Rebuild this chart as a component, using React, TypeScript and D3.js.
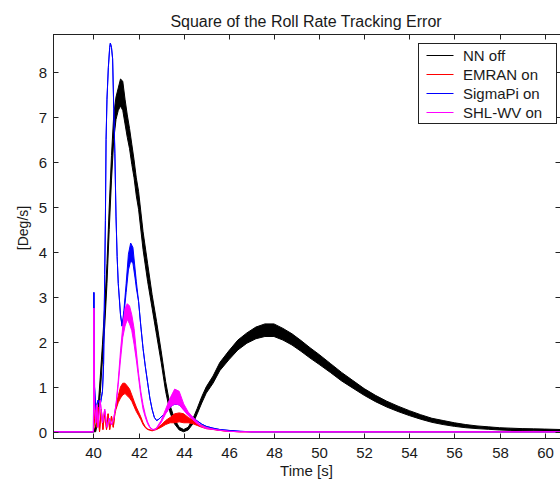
import React from "react";
import * as d3 from "d3";

// ---------- data ----------
const xTicks = [40, 42, 44, 46, 48, 50, 52, 54, 56, 58, 60];
const yTicks = [0, 1, 2, 3, 4, 5, 6, 7, 8];
const seriesNames = ["NN off", "EMRAN on", "SigmaPi on", "SHL-WV on"];
const seriesColors = ["#000000", "#ff0000", "#0000ff", "#ff00ff"];

// NN off (black) : time, lower / upper edge of the noisy trace
const nnOffT = [38.2, 40.0, 40.1, 40.2, 40.3, 40.4, 40.5, 40.6, 40.7, 40.8, 40.9, 41.0, 41.1, 41.2, 41.3, 41.4, 41.5, 41.6, 41.7, 41.8, 41.9, 42.0, 42.2, 42.4, 42.6, 42.8, 43.0, 43.2, 43.4, 43.6, 43.8, 44.0, 44.2, 44.4, 44.6, 44.8, 45.0, 45.3, 45.6, 46.0, 46.4, 46.8, 47.2, 47.6, 48.0, 48.4, 48.8, 49.2, 49.6, 50.0, 50.5, 51.0, 51.5, 52.0, 52.5, 53.0, 53.5, 54.0, 54.5, 55.0, 55.5, 56.0, 56.5, 57.0, 57.5, 58.0, 58.5, 59.0, 59.5, 60.0, 60.7];
const nnOffLo = [0, 0, 0, 0.25, 0.85, 1.6, 2.35, 3.3, 4.5, 5.6, 6.5, 6.95, 7.15, 7.25, 7.15, 6.85, 6.55, 6.3, 5.95, 5.65, 5.25, 4.95, 4.05, 3.35, 2.75, 2.15, 1.55, 0.9, 0.42, 0.17, 0.04, 0.0, 0.04, 0.17, 0.4, 0.64, 0.86, 1.08, 1.36, 1.6, 1.82, 1.97, 2.07, 2.12, 2.12, 2.04, 1.93, 1.79, 1.64, 1.5, 1.32, 1.13, 0.97, 0.81, 0.67, 0.55, 0.45, 0.36, 0.28, 0.21, 0.16, 0.12, 0.09, 0.07, 0.055, 0.04, 0.03, 0.025, 0.02, 0.015, 0.01];
const nnOffHi = [0, 0, 0.12, 0.5, 1.2, 1.95, 2.8, 3.75, 5.0, 6.15, 7.05, 7.45, 7.65, 7.85, 7.8, 7.4, 7.05, 6.75, 6.4, 6.05, 5.65, 5.35, 4.45, 3.75, 3.05, 2.45, 1.8, 1.12, 0.58, 0.28, 0.1, 0.05, 0.1, 0.28, 0.52, 0.78, 1.0, 1.24, 1.54, 1.8, 2.04, 2.2, 2.33, 2.4, 2.4, 2.3, 2.18, 2.03, 1.87, 1.72, 1.52, 1.32, 1.14, 0.96, 0.81, 0.68, 0.57, 0.47, 0.38, 0.3, 0.25, 0.2, 0.16, 0.13, 0.11, 0.09, 0.08, 0.07, 0.065, 0.06, 0.05];

// EMRAN on (red)
const emranT = [38.2, 40.0, 40.05, 40.1, 40.15, 40.2, 40.27, 40.35, 40.42, 40.5, 40.58, 40.65, 40.72, 40.8, 40.88, 40.95, 41.0, 41.1, 41.2, 41.3, 41.4, 41.5, 41.6, 41.7, 41.8, 41.9, 42.0, 42.1, 42.2, 42.3, 42.4, 42.6, 42.8, 43.0, 43.2, 43.4, 43.6, 43.8, 44.0, 44.2, 44.4, 44.6, 44.8, 45.0, 45.3, 45.6, 46.0, 46.5, 60.7];
const emranLo = [0, 0, 0.3, 0.6, 0.1, 0.55, 0.0, 0.5, 0.05, 0.45, 0.05, 0.4, 0.05, 0.35, 0.1, 0.4, 0.5, 0.65, 0.75, 0.82, 0.85, 0.8, 0.75, 0.68, 0.56, 0.45, 0.36, 0.27, 0.16, 0.09, 0.05, 0.02, 0.05, 0.1, 0.16, 0.2, 0.2, 0.22, 0.2, 0.2, 0.18, 0.14, 0.1, 0.07, 0.05, 0.03, 0.01, 0, 0];
const emranHi = [0, 0, 0.3, 0.6, 0.1, 0.55, 0.0, 0.5, 0.05, 0.45, 0.05, 0.4, 0.05, 0.35, 0.1, 0.4, 0.6, 0.8, 1.0, 1.08, 1.08, 1.02, 0.95, 0.82, 0.68, 0.55, 0.44, 0.33, 0.2, 0.11, 0.06, 0.03, 0.08, 0.15, 0.25, 0.32, 0.4, 0.42, 0.4, 0.32, 0.26, 0.18, 0.14, 0.09, 0.06, 0.03, 0.01, 0, 0];

// SigmaPi on (blue)
const sigmaT = [38.2, 40.0, 40.02, 40.05, 40.1, 40.2, 40.3, 40.4, 40.45, 40.5, 40.53, 40.56, 40.6, 40.66, 40.72, 40.75, 40.8, 40.85, 40.9, 40.95, 41.0, 41.05, 41.1, 41.2, 41.27, 41.35, 41.45, 41.55, 41.65, 41.75, 41.85, 41.9, 42.0, 42.1, 42.2, 42.3, 42.4, 42.5, 42.6, 42.7, 42.8, 42.9, 43.0, 43.2, 43.4, 43.6, 43.8, 44.0, 44.2, 44.4, 44.6, 44.8, 45.0, 45.3, 45.6, 46.0, 46.5, 47.0, 60.7];
const sigmaLo = [0, 0, 3.1, 1.0, 0.5, 0.7, 0.6, 0.9, 1.5, 3.5, 4.7, 6.5, 7.4, 8.1, 8.55, 8.65, 8.55, 8.3, 7.2, 6.2, 4.8, 3.9, 3.3, 2.6, 2.35, 2.6, 3.1, 3.6, 3.8, 3.75, 3.4, 3.2, 2.9, 2.35, 1.85, 1.45, 1.1, 0.75, 0.5, 0.32, 0.25, 0.28, 0.33, 0.42, 0.55, 0.62, 0.6, 0.5, 0.4, 0.32, 0.24, 0.17, 0.12, 0.08, 0.05, 0.03, 0.01, 0, 0];
const sigmaHi = [0, 0, 3.1, 1.0, 0.5, 0.7, 0.6, 0.9, 1.5, 3.5, 4.7, 6.5, 7.4, 8.1, 8.55, 8.65, 8.55, 8.3, 7.2, 6.2, 4.8, 3.9, 3.3, 2.6, 2.35, 2.7, 3.3, 3.95, 4.2, 4.1, 3.6, 3.35, 2.9, 2.35, 1.85, 1.45, 1.1, 0.75, 0.5, 0.32, 0.25, 0.28, 0.33, 0.42, 0.55, 0.62, 0.6, 0.5, 0.4, 0.32, 0.24, 0.17, 0.12, 0.08, 0.05, 0.03, 0.01, 0, 0];

// SHL-WV on (magenta)
const shlT = [38.2, 40.0, 40.02, 40.05, 40.1, 40.15, 40.2, 40.3, 40.4, 40.5, 40.6, 40.7, 40.8, 40.9, 41.0, 41.1, 41.2, 41.3, 41.4, 41.5, 41.6, 41.7, 41.8, 41.9, 42.0, 42.1, 42.2, 42.3, 42.4, 42.5, 42.6, 42.7, 42.8, 43.0, 43.2, 43.4, 43.6, 43.8, 44.0, 44.2, 44.4, 44.6, 44.8, 45.0, 45.5, 46.0, 46.5, 60.7];
const shlLo = [0, 0, 2.75, 0.6, 0.2, 0.6, 0.1, 0.7, 0.2, 0.5, 0.1, 0.3, 0.15, 0.3, 0.6, 1.05, 1.6, 2.1, 2.35, 2.5, 2.4, 2.25, 1.95, 1.6, 1.2, 0.8, 0.5, 0.32, 0.18, 0.09, 0.05, 0.04, 0.07, 0.2, 0.4, 0.55, 0.62, 0.6, 0.48, 0.36, 0.27, 0.18, 0.11, 0.07, 0.04, 0.01, 0, 0];
const shlHi = [0, 0, 2.75, 0.6, 0.2, 0.6, 0.1, 0.7, 0.2, 0.5, 0.1, 0.3, 0.15, 0.3, 0.6, 1.15, 1.8, 2.35, 2.75, 2.85, 2.8, 2.6, 2.3, 1.8, 1.3, 0.9, 0.6, 0.38, 0.22, 0.11, 0.06, 0.05, 0.09, 0.25, 0.5, 0.75, 0.95, 0.9, 0.62, 0.44, 0.33, 0.22, 0.13, 0.09, 0.04, 0.01, 0, 0];

const seriesT = [nnOffT, emranT, sigmaT, shlT];
const seriesLo = [nnOffLo, emranLo, sigmaLo, shlLo];
const seriesHi = [nnOffHi, emranHi, sigmaHi, shlHi];

// ---------- layout ----------
const W = 560;
const H = 483;
const L = 53.5, R = 560.5, T = 34.5, B = 438.5;
const FONT = "'Liberation Sans', Arial, Helvetica, sans-serif";
const TXT = "#1a1a1a";

export default function App() {
  const x = d3.scaleLinear().domain([38.23, 60.7]).range([L, R]);
  const y = d3.scaleLinear().domain([-0.15, 8.84]).range([B, T]);

  const paths = seriesT.map((ts, s) => {
    const idx = ts.map((_, i) => i);
    const gen = d3
      .area<number>()
      .x((i) => x(ts[i]))
      .y0((i) => y(seriesLo[s][i]))
      .y1((i) => y(seriesHi[s][i]));
    return gen(idx) || "";
  });

  const tickLen = 5;
  const legX = 418.5, legY = 43.5, legW = 138, legH = 80;

  return (
    <svg
      width={W}
      height={H}
      style={{ position: "absolute", left: 0, top: 0, background: "#fff" }}
      fontFamily={FONT}
    >
      <rect x={0} y={0} width={W} height={H} fill="#fff" />
      {/* title */}
      <text x={306} y={27} textAnchor="middle" fontSize={16} fill={TXT}>
        Square of the Roll Rate Tracking Error
      </text>

      <defs>
        <clipPath id="plotClip">
          <rect x={L} y={T} width={R - L} height={B - T} />
        </clipPath>
      </defs>

      {/* series */}
      <g clipPath="url(#plotClip)">
        {paths.map((d, s) => (
          <path
            key={s}
            d={d}
            fill={seriesColors[s]}
            stroke={seriesColors[s]}
            strokeWidth={1}
            strokeLinejoin="round"
          />
        ))}
      </g>

      {/* axes box */}
      <rect x={L} y={T} width={R - L} height={B - T} fill="none" stroke="#222" strokeWidth={1} />

      {/* x ticks */}
      {xTicks.map((t) => {
        const px = Math.round(x(t)) + 0.5;
        return (
          <g key={"x" + t}>
            <line x1={px} x2={px} y1={B} y2={B - tickLen} stroke="#222" />
            <line x1={px} x2={px} y1={T} y2={T + tickLen} stroke="#222" />
            <text x={px} y={458} textAnchor="middle" fontSize={15} fill={TXT}>
              {t}
            </text>
          </g>
        );
      })}
      {/* y ticks */}
      {yTicks.map((t) => {
        const py = Math.round(y(t)) + 0.5;
        return (
          <g key={"y" + t}>
            <line x1={L} x2={L + tickLen} y1={py} y2={py} stroke="#222" />
            <line x1={R} x2={R - tickLen} y1={py} y2={py} stroke="#222" />
            <text x={47} y={py + 5.5} textAnchor="end" fontSize={15} fill={TXT}>
              {t}
            </text>
          </g>
        );
      })}

      {/* axis labels */}
      <text x={306.5} y={476} textAnchor="middle" fontSize={15} fill={TXT}>
        Time [s]
      </text>
      <text
        transform={`translate(28,228) rotate(-90)`}
        textAnchor="middle"
        fontSize={14}
        fill={TXT}
      >
        [Deg/s]
      </text>

      {/* legend */}
      <rect x={legX} y={legY} width={legW} height={legH} fill="#fff" stroke="#222" />
      {seriesNames.map((n, i) => {
        const ly = 55 + i * 19;
        return (
          <g key={n}>
            <line x1={426.5} x2={453.5} y1={ly + 0.5} y2={ly + 0.5} stroke={seriesColors[i]} />
            <text x={463} y={ly + 5.5} fontSize={15} fill={TXT}>
              {n}
            </text>
          </g>
        );
      })}
    </svg>
  );
}
